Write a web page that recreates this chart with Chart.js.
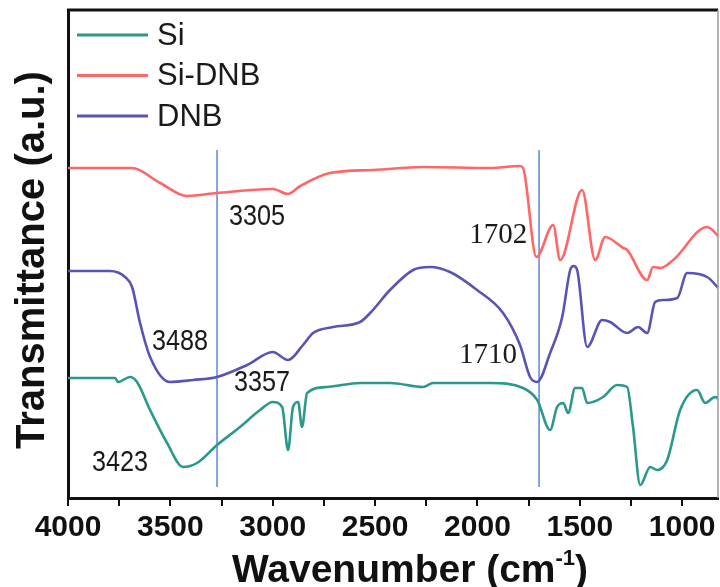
<!DOCTYPE html>
<html>
<head>
<meta charset="utf-8">
<script src="https://cdn.jsdelivr.net/npm/chart.js@4.4.1/dist/chart.umd.min.js"></script>
<style>
  body { margin: 0; background: #fff; }
  #wrap { width: 720px; height: 587px; }
</style>
</head>
<body>
<div id="wrap"><canvas id="ftir" width="720" height="587"></canvas></div>
<script>
// FTIR spectra, wavenumber (cm-1) vs transmittance (a.u.)
const siWave = [4000, 3770, 3756, 3697, 3663, 3599, 3516, 3438, 3370, 3272, 3160, 3062, 3000, 2954, 2925, 2901, 2876, 2857, 2832, 2735, 2573, 2427, 2265, 2217, 1938, 1777, 1708, 1645, 1611, 1581, 1557, 1523, 1489, 1464, 1386, 1318, 1269, 1240, 1205, 1156, 1122, 1073, 1010, 927, 888, 839, 814];
const siTrans = [120, 120, 116, 121, 116, 88, 55, 31, 35, 53, 71, 88, 96, 91, 48, 91, 96, 71, 105, 111, 115, 115, 111, 115, 115, 110, 98, 68, 91, 95, 85, 110, 110, 95, 101, 113, 111, 71, 13, 31, 28, 38, 88, 108, 95, 101, 98];

const siDnbWave = [4000, 3687, 3550, 3419, 3272, 3000, 2925, 2866, 2720, 2510, 2265, 1938, 1792, 1777, 1712, 1630, 1596, 1489, 1425, 1376, 1288, 1269, 1171, 1142, 1107, 1044, 878, 814];
const siDnbTrans = [330, 330, 315, 302, 305, 309, 304, 312, 325, 328, 331, 330, 332, 330, 241, 273, 238, 308, 238, 261, 250, 248, 218, 231, 230, 238, 271, 260];

const dnbWave = [4000, 3795, 3721, 3687, 3648, 3599, 3502, 3389, 3272, 3125, 3000, 2925, 2852, 2803, 2705, 2573, 2524, 2427, 2314, 2231, 2134, 2002, 1875, 1792, 1743, 1708, 1645, 1586, 1547, 1530, 1513, 1464, 1391, 1352, 1269, 1215, 1171, 1132, 1093, 1024, 976, 878, 814];
const dnbTrans = [227, 227, 221, 211, 175, 141, 116, 118, 121, 133, 146, 138, 153, 165, 171, 176, 185, 208, 228, 231, 226, 208, 185, 153, 121, 116, 145, 181, 228, 232, 228, 151, 178, 176, 165, 171, 165, 196, 198, 200, 225, 221, 208];

const xTicks = [4000, 3500, 3000, 2500, 2000, 1500, 1000];

// guide lines and peak labels
const guideWave = [3272, 1699];
const guideRange = [11, 348];
const peakText = ['3305', '3488', '3357', '3423', '1702', '1710'];
const peakWave = [3077, 3453, 3052, 3746, 1899, 1948];
const peakTrans = [281, 156, 115, 35, 263, 143];

const toPts = (xs, ys) => xs.map((x, i) => ({ x: x, y: ys[i] }));

const series = [
    { label: 'Si', data: toPts(siWave, siTrans), borderColor: 'rgb(42,152,140)' },
    { label: 'Si-DNB', data: toPts(siDnbWave, siDnbTrans), borderColor: 'rgb(255,102,102)' },
    { label: 'DNB', data: toPts(dnbWave, dnbTrans), borderColor: 'rgb(88,84,182)' }
];

const guides = guideWave.map(w => ({
    label: 'guide',
    data: guideRange.map(v => ({ x: w, y: v })),
    borderColor: 'rgb(90,135,220)',
    borderWidth: 1.5
}));

const decor = {
    id: 'decor',
    afterDatasetsDraw(chart) {
        const { ctx, chartArea: a, scales: { x, y } } = chart;
        ctx.save();

        // frame top + right
        ctx.strokeStyle = '#111';
        ctx.lineWidth = 3;
        ctx.beginPath();
        ctx.moveTo(a.left - 1, a.top);
        ctx.lineTo(a.right, a.top);
        ctx.stroke();
        ctx.strokeStyle = '#9a9a9a';
        ctx.lineWidth = 1.5;
        ctx.beginPath();
        ctx.moveTo(a.right, a.top);
        ctx.lineTo(a.right, a.bottom);
        ctx.stroke();

        // legend inside the plot
        ctx.textBaseline = 'middle';
        ctx.textAlign = 'left';
        ctx.font = '31px "Liberation Sans", Arial, sans-serif';
        series.forEach((s, i) => {
            const ly = 35 + i * 40.5;
            ctx.strokeStyle = s.borderColor;
            ctx.lineWidth = 3;
            ctx.beginPath();
            ctx.moveTo(77, ly);
            ctx.lineTo(148, ly);
            ctx.stroke();
            ctx.fillStyle = '#1a1a1a';
            ctx.fillText(s.label, 157, ly + 1);
        });

        // peak labels (sans ones are condensed in the original)
        ctx.textAlign = 'center';
        peakText.forEach((t, i) => {
            const px = x.getPixelForValue(peakWave[i]);
            const py = y.getPixelForValue(peakTrans[i]);
            ctx.fillStyle = '#1a1a1a';
            if (t.startsWith('17')) {
                ctx.font = '29px "Liberation Serif", "Times New Roman", serif';
                ctx.fillText(t, px, py);
            } else {
                ctx.save();
                ctx.translate(px, py);
                ctx.scale(0.84, 1);
                ctx.font = '30px "Liberation Sans", Arial, sans-serif';
                ctx.fillText(t, 0, 0);
                ctx.restore();
            }
        });

        // axis titles
        ctx.fillStyle = '#111';
        ctx.font = 'bold 40px "Liberation Sans", Arial, sans-serif';
        ctx.save();
        ctx.translate(33, (a.top + a.bottom) / 2 + 6);
        ctx.rotate(-Math.PI / 2);
        ctx.textAlign = 'center';
        ctx.fillText('Transmittance (a.u.)', 0, 0);
        ctx.restore();

        ctx.textBaseline = 'alphabetic';
        ctx.textAlign = 'left';
        const main = 'Wavenumber (cm';
        const sup = '-1';
        ctx.font = 'bold 39px "Liberation Sans", Arial, sans-serif';
        const wMain = ctx.measureText(main).width;
        const wClose = ctx.measureText(')').width;
        ctx.font = 'bold 22px "Liberation Sans", Arial, sans-serif';
        const wSup = ctx.measureText(sup).width;
        let sx = 410 - (wMain + wSup + wClose) / 2;
        const by = 582;
        ctx.font = 'bold 39px "Liberation Sans", Arial, sans-serif';
        ctx.fillText(main, sx, by);
        sx += wMain;
        ctx.font = 'bold 22px "Liberation Sans", Arial, sans-serif';
        ctx.fillText(sup, sx, by - 17);
        sx += wSup;
        ctx.font = 'bold 39px "Liberation Sans", Arial, sans-serif';
        ctx.fillText(')', sx, by);

        ctx.restore();
    }
};

const config = {
    type: 'line',
    data: {
        datasets: [
            ...series.map(s => ({ ...s, borderWidth: 2.6, cubicInterpolationMode: 'monotone' })),
            ...guides
        ]
    },
    options: {
        responsive: false,
        animation: false,
        layout: { padding: { left: 68, top: 10, right: 2, bottom: 0 } },
        elements: { point: { radius: 0 }, line: { tension: 0, borderJoinStyle: 'round' } },
        plugins: {
            legend: { display: false },
            tooltip: { enabled: false }
        },
        scales: {
            x: {
                type: 'linear',
                reverse: true,
                min: 825,
                max: 4000,
                ticks: {
                    stepSize: 250,
                    includeBounds: false,
                    autoSkip: false,
                    maxRotation: 0,
                    padding: 4,
                    color: '#111',
                    font: { family: '"Liberation Sans", Arial, sans-serif', size: 30, weight: 'bold' },
                    callback: v => xTicks.includes(v) ? String(v) : ''
                },
                grid: { display: true, drawOnChartArea: false, drawTicks: true, tickLength: 8, color: '#111', lineWidth: 2 },
                border: { display: true, color: '#111', width: 3 },
                afterFit: s => { s.height = 89; }
            },
            y: {
                min: 0,
                max: 488,
                ticks: { display: false },
                grid: { display: false },
                border: { display: true, color: '#111', width: 3 },
                afterFit: s => { s.width = 0; }
            }
        }
    },
    plugins: [decor]
};

new Chart(document.getElementById('ftir'), config);
</script>
</body>
</html>
